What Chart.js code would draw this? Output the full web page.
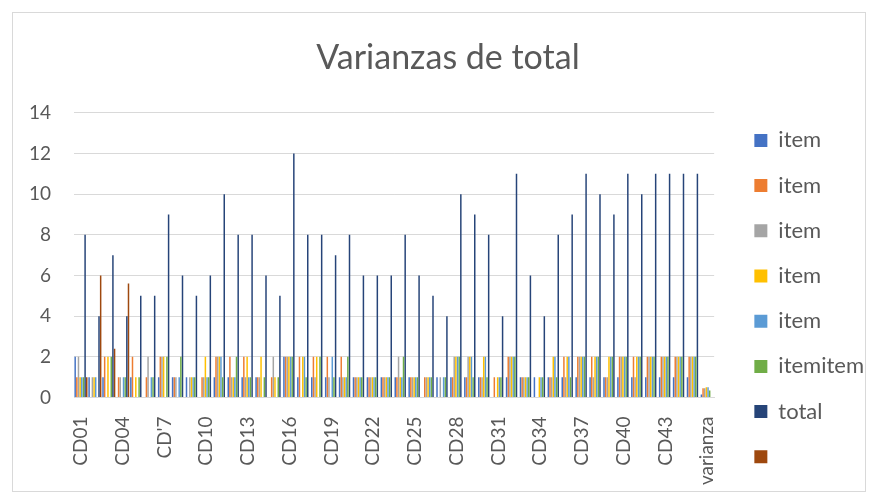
<!DOCTYPE html>
<html>
<head>
<meta charset="utf-8">
<script src="https://cdn.jsdelivr.net/npm/chart.js@4.4.1/dist/chart.umd.min.js"></script>
<style>
  body { margin: 0; background: #fff; }
  #wrap { position: relative; width: 874px; height: 503px; }
  #frame { position: absolute; left: 12px; top: 12px; width: 852px; height: 478px; border: 1px solid #d9d9d9; pointer-events: none; }
</style>
</head>
<body>
<div id="wrap">
  <canvas id="varChart" width="874" height="503"></canvas>
  <div id="frame"></div>
</div>
<script>
const categories = ['CD01', 'CD02', 'CD03', 'CD04', 'CD05', 'CD06', "CD'7", 'CD08', 'CD09', 'CD10',
    'CD11', 'CD12', 'CD13', 'CD14', 'CD15', 'CD16', 'CD17', 'CD18', 'CD19', 'CD20',
    'CD21', 'CD22', 'CD23', 'CD24', 'CD25', 'CD26', 'CD27', 'CD28', 'CD29', 'CD30',
    'CD31', 'CD32', 'CD33', 'CD34', 'CD35', 'CD36', 'CD37', 'CD38', 'CD39', 'CD40',
    'CD41', 'CD42', 'CD43', 'CD44', 'CD45', 'varianza'];

const item1 = [2, 1, 1, 0, 1, 0, 1, 1, 1, 0, 1, 1, 1, 1, 0, 2, 1, 1, 1, 1, 1, 1, 1, 1, 1, 0, 1, 1, 1, 1, 0, 1, 1, 1, 1, 1, 1, 1, 1, 1, 1, 1, 1, 1, 1, 0.15];
const item2 = [1, 0, 2, 1, 2, 1, 2, 1, 0, 1, 2, 2, 2, 1, 1, 2, 2, 2, 2, 2, 1, 1, 1, 1, 1, 1, 0, 1, 1, 1, 1, 2, 1, 0, 1, 2, 2, 2, 1, 2, 2, 2, 2, 2, 2, 0.45];
const item3 = [2, 1, 0, 1, 0, 2, 2, 1, 1, 1, 2, 1, 1, 1, 2, 2, 0, 1, 1, 1, 1, 1, 1, 2, 1, 1, 1, 2, 2, 1, 0, 2, 1, 0, 1, 1, 2, 1, 1, 2, 1, 2, 2, 2, 2, 0.45];
const item4 = [1, 1, 2, 0, 1, 0, 2, 0, 1, 2, 2, 1, 2, 2, 1, 2, 2, 2, 0, 1, 1, 1, 1, 1, 1, 1, 0, 2, 2, 2, 1, 2, 1, 1, 2, 2, 2, 2, 2, 2, 2, 2, 2, 2, 2, 0.5];
const item5 = [1, 1, 0, 1, 0, 1, 0, 1, 1, 1, 2, 1, 1, 0, 0, 2, 2, 0, 2, 1, 1, 1, 1, 1, 1, 1, 1, 2, 2, 2, 1, 2, 1, 1, 2, 2, 2, 2, 2, 2, 2, 2, 2, 2, 2, 0.5];
const itemitem = [1, 0, 2, 1, 1, 1, 2, 2, 1, 1, 1, 2, 1, 1, 1, 2, 1, 2, 1, 2, 1, 1, 1, 2, 1, 1, 1, 2, 1, 1, 1, 2, 1, 1, 1, 1, 2, 2, 2, 2, 2, 2, 2, 2, 2, 0.35];
const total = [8, 4, 7, 4, 5, 5, 9, 6, 5, 6, 10, 8, 8, 6, 5, 12, 8, 8, 7, 8, 6, 6, 6, 8, 6, 5, 4, 10, 9, 8, 4, 11, 6, 4, 8, 9, 11, 10, 9, 11, 10, 11, 11, 11, 11, null];
const extra = [1, 6, 2.4, 5.6, null, null, null, null, null, null, null, null, null, null, null, null, null, null, null, null, null, null, null, null, null, null, null, null, null, null, null, null, null, null, null, null, null, null, null, null, null, null, null, null, null, null];

const yTicks = [0, 2, 4, 6, 8, 10, 12, 14];

const textColor = '#595959';
const fontFamily = 'Lato';

const ctx = document.getElementById('varChart').getContext('2d');
const varChart = new Chart(ctx, {
    type: 'bar',
    data: {
        labels: categories,
        datasets: [
            { label: 'item', data: item1, backgroundColor: '#4472C4' },
            { label: 'item', data: item2, backgroundColor: '#ED7D31' },
            { label: 'item', data: item3, backgroundColor: '#A5A5A5' },
            { label: 'item', data: item4, backgroundColor: '#FFC000' },
            { label: 'item', data: item5, backgroundColor: '#5B9BD5' },
            { label: 'itemitem', data: itemitem, backgroundColor: '#70AD47' },
            { label: 'total', data: total, backgroundColor: '#264478' },
            { label: '', data: extra, backgroundColor: '#9E480E' }
        ]
    },
    options: {
        responsive: false,
        animation: false,
        devicePixelRatio: 1,
        datasets: {
            bar: {
                categoryPercentage: 0.95,
                barPercentage: 0.9
            }
        },
        layout: {
            padding: { left: 22, top: 12, right: 0, bottom: 12 }
        },
        plugins: {
            title: {
                display: true,
                text: 'Varianzas de total',
                color: textColor,
                font: { family: fontFamily, size: 34, weight: 'normal' },
                padding: { top: 26, bottom: 34 }
            },
            legend: {
                position: 'right',
                align: 'end',
                maxWidth: 148,
                labels: {
                    boxWidth: 13,
                    boxHeight: 13,
                    padding: 23.2,
                    color: textColor,
                    font: { family: fontFamily, size: 22 }
                }
            },
            tooltip: { enabled: false }
        },
        scales: {
            x: {
                grid: { display: false },
                border: { color: '#d9d9d9' },
                ticks: {
                    autoSkip: false,
                    maxRotation: 90,
                    minRotation: 90,
                    padding: 11,
                    color: textColor,
                    font: { family: fontFamily, size: 19 },
                    callback: function (value, index) {
                        return index % 3 === 0 ? categories[index] : '';
                    }
                },
                afterFit: function (scale) { scale.height = 93.5; }
            },
            y: {
                min: 0,
                max: 14,
                afterBuildTicks: function (scale) {
                    scale.ticks = yTicks.map(v => ({ value: v }));
                },
                grid: { color: '#d9d9d9', drawTicks: false },
                border: { display: false },
                ticks: {
                    padding: 23,
                    color: textColor,
                    font: { family: fontFamily, size: 19 }
                },
                afterFit: function (scale) { scale.width = 52; }
            },
            gap: {
                position: 'right',
                grid: { display: false },
                border: { display: false },
                ticks: { display: false },
                afterFit: function (scale) { scale.width = 17; }
            }
        }
    }
});
</script>
</body>
</html>
